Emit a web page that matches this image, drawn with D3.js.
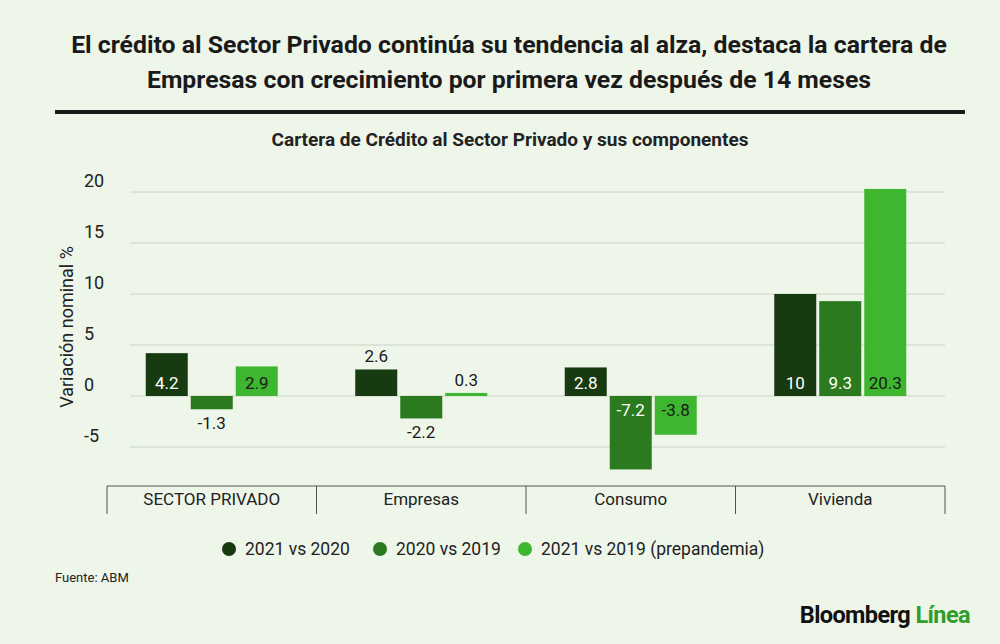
<!DOCTYPE html><html><head><meta charset="utf-8">
<script src="https://cdn.jsdelivr.net/npm/d3@7"></script>
<style>body{margin:0;background:#eef5e9;font-family:Roboto,sans-serif}</style></head><body>
<svg id="c" width="1000" height="644"></svg>
<script>
const categories=["SECTOR PRIVADO","Empresas","Consumo","Vivienda"];
const seriesNames=["2021 vs 2020","2020 vs 2019","2021 vs 2019 (prepandemia)"];
const s2021v2020=[4.2,2.6,2.8,10];
const s2020v2019=[-1.3,-2.2,-7.2,9.3];
const s2021v2019=[2.9,0.3,-3.8,20.3];
const yTicks=[-5,0,5,10,15,20];
const colors=["#183a10","#2c7a1f","#3fb62f"];
const textCol=["#fff","#fff","#1a1a1a"];
const series=[s2021v2020,s2020v2019,s2021v2019];
const svg=d3.select("#c");
svg.append("rect").attr("width",1000).attr("height",644).attr("fill","#eef5e9");
const t=svg.append("text").attr("x",509).attr("text-anchor","middle").attr("font-weight",700).attr("font-size",24.8).attr("fill","#1a1a1a");
t.append("tspan").attr("x",509).attr("y",53).text("El crédito al Sector Privado continúa su tendencia al alza, destaca la cartera de");
t.append("tspan").attr("x",509).attr("y",88).text("Empresas con crecimiento por primera vez después de 14 meses");
svg.append("rect").attr("x",55).attr("y",110).attr("width",910).attr("height",4).attr("fill","#1a1a1a");
svg.append("text").attr("x",510).attr("y",146).attr("text-anchor","middle").attr("font-weight",700).attr("font-size",19).attr("fill","#222").text("Cartera de Crédito al Sector Privado y sus componentes");
const y=d3.scaleLinear().domain([0,20]).range([396,192]);
const x=d3.scaleBand().domain(categories).range([107,945]);
const g=svg.append("g");
yTicks.forEach(v=>{
 g.append("line").attr("x1",130).attr("x2",945).attr("y1",y(v)).attr("y2",y(v)).attr("stroke","#c9d6c2").attr("stroke-width",1);
 g.append("text").attr("x",84).attr("y",y(v)-5).attr("font-size",18).attr("fill","#222").text(v);
});
svg.append("text").attr("transform","translate(73,327) rotate(-90)").attr("text-anchor","middle").attr("font-size",18).attr("fill","#222").text("Variación nominal %");
const bw=42,gap=3;
categories.forEach((c,i)=>{
 const cx=x(c)+x.bandwidth()/2;
 series.forEach((s,j)=>{
  const v=s[i],bx=cx+(j-1)*(bw+gap)-bw/2;
  const y0=y(Math.max(0,v)),h=Math.abs(y(v)-y(0));
  svg.append("rect").attr("x",bx).attr("y",y0).attr("width",bw).attr("height",h).attr("fill",colors[j]);
  let ly,fill;
  if(Math.abs(v)>=2.7){fill=textCol[j];ly=v>0?y(0)-7:y(0)+20;}
  else{fill="#1a1a1a";ly=v>0?y(v)-7:y(v)+20;}
  svg.append("text").attr("x",bx+bw/2).attr("y",ly).attr("text-anchor","middle").attr("font-size",17).attr("fill",fill).text(v);
 });
});
svg.append("line").attr("x1",107).attr("x2",945).attr("y1",486).attr("y2",486).attr("stroke","#555");
[...categories.map(c=>x(c)),945].forEach(px=>svg.append("line").attr("x1",px).attr("x2",px).attr("y1",486).attr("y2",514).attr("stroke","#555"));
categories.forEach(c=>svg.append("text").attr("x",x(c)+x.bandwidth()/2).attr("y",505).attr("text-anchor","middle").attr("font-size",17).attr("fill","#222").text(c));
const lx=[229,380,525];
seriesNames.forEach((n,j)=>{
 svg.append("circle").attr("cx",lx[j]).attr("cy",549).attr("r",7).attr("fill",colors[j]);
 svg.append("text").attr("x",lx[j]+16).attr("y",555).attr("font-size",17.5).attr("fill","#222").text(n);
});
svg.append("text").attr("x",55).attr("y",582).attr("font-size",13).attr("fill","#222").text("Fuente: ABM");
const lg=svg.append("text").attr("x",970).attr("y",623).attr("text-anchor","end").attr("font-weight",700).attr("font-size",23.5).attr("letter-spacing",-0.6);
lg.append("tspan").attr("fill","#111").text("Bloomberg ");
lg.append("tspan").attr("fill","#2f9e2a").text("Línea");
</script></body></html>
